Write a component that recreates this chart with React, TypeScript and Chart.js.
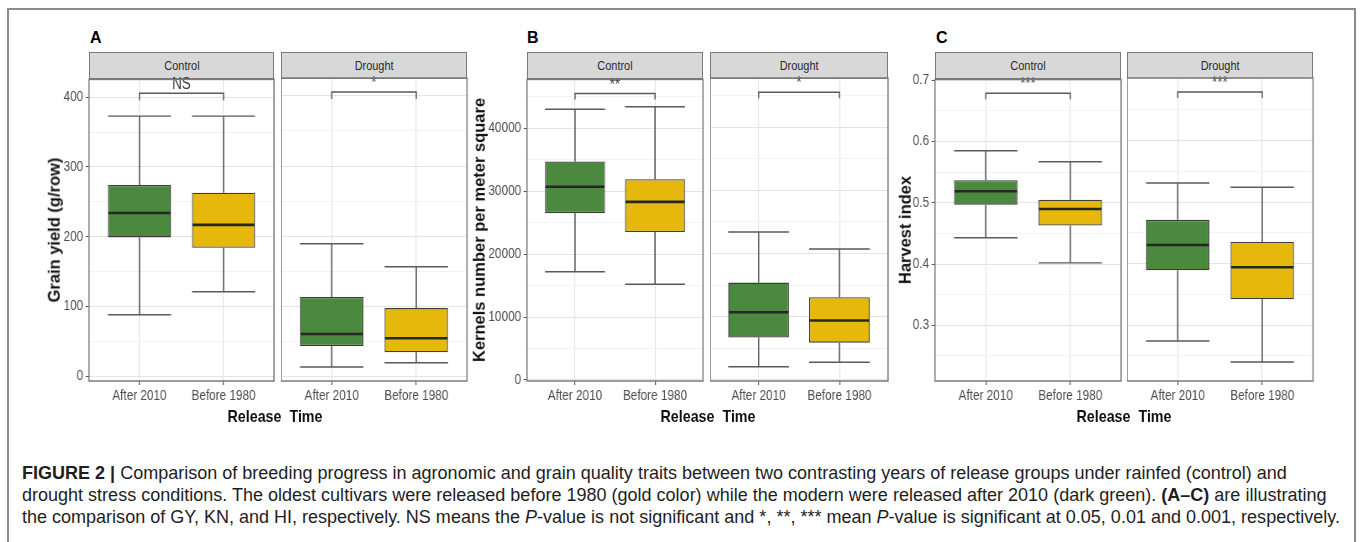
import React, { useEffect, useLayoutEffect, useRef, useState } from 'react';
import { Chart, registerables } from 'chart.js';

Chart.register(...registerables);

// Release groups on the x axis and the two water regimes shown as facets
const releaseGroups = ['After 2010', 'Before 1980'];
const regimes = ['Control', 'Drought'];
const groupColors = ['#4b8a3e', '#e6b80b'];

// Box summaries per release group: [lower whisker, Q1, median, Q3, upper whisker]
const grainYieldControl = [[88, 199, 234, 274, 373], [121, 184, 217, 263, 373]];
const grainYieldDrought = [[13, 43, 60, 113, 189], [19, 34, 54, 97, 156]];
const kernelsControl = [[17200, 26500, 30700, 34700, 43000], [15200, 23500, 28300, 31900, 43400]];
const kernelsDrought = [[2100, 6700, 10700, 15400, 23400], [2800, 5900, 9400, 13100, 20700]];
const harvestControl = [[0.443, 0.497, 0.519, 0.537, 0.585], [0.402, 0.463, 0.49, 0.505, 0.567]];
const harvestDrought = [[0.274, 0.389, 0.43, 0.471, 0.531], [0.24, 0.342, 0.394, 0.435, 0.524]];

// Significance of After 2010 vs Before 1980, one label per regime
const grainYieldSignif = ['NS', '*'];
const kernelsSignif = ['**', '*'];
const harvestSignif = ['***', '***'];

// Comparison bracket: [bar height, tip height] in data units
const grainYieldBracket = [405.7, 395.7];
const kernelsBracket = [45500, 44550];
const harvestBracket = [0.679, 0.669];

// Y ranges and ticks (an empty label marks a minor grid line)
const grainYieldRange = [-7.1, 425.7];
const grainYieldTicks = [0, 50, 100, 150, 200, 250, 300, 350, 400];
const grainYieldTickLabels = ['0', '', '100', '', '200', '', '300', '', '400'];
const kernelsRange = [-160, 47750];
const kernelsTicks = [0, 5000, 10000, 15000, 20000, 25000, 30000, 35000, 40000, 45000];
const kernelsTickLabels = ['0', '', '10000', '', '20000', '', '30000', '', '40000', ''];
const harvestRange = [0.209, 0.7016];
const harvestTicks = [0.25, 0.3, 0.35, 0.4, 0.45, 0.5, 0.55, 0.6, 0.65, 0.7];
const harvestTickLabels = ['', '0.3', '', '0.4', '', '0.5', '', '0.6', '', '0.7'];

const captionLines = [
  [{ b: 'FIGURE 2 | ' }, { t: 'Comparison of breeding progress in agronomic and grain quality traits between two contrasting years of release groups under rainfed (control) and' }],
  [{ t: 'drought stress conditions. The oldest cultivars were released before 1980 (gold color) while the modern were released after 2010 (dark green). ' }, { b: '(A–C)' }, { t: ' are illustrating' }],
  [{ t: 'the comparison of GY, KN, and HI, respectively. NS means the ' }, { i: 'P' }, { t: '-value is not significant and *, **, *** mean ' }, { i: 'P' }, { t: '-value is significant at 0.05, 0.01 and 0.001, respectively.' }],
];

const SANS = "'Liberation Sans', Arial, Helvetica, sans-serif";

// The plot panels use a horizontally condensed type, as in the printed figure
const SQUASH = 0.84;

const GRID_MAJOR = '#e4e4e4';
const GRID_MINOR = '#f3f3f3';
const TICK_TEXT = '#4d4d4d';
const TICK_MARK = '#555555';
const PANEL_EDGE = '#7a7a7a';
const WHISKER = '#5a5a5a';

// Figure geometry (pixels)
const PLOT_TOP = 78;
const PLOT_H = 303;
const PAD_T = 10;
const PAD_R = 10;
const Y_AXIS_W = 46;
const X_AXIS_H = 34;
const STRIP_TOP = 52;
const STRIP_H = 26;

const panels = [
  {
    letter: 'A', letterX: 90, yTitle: 'Grain yield (g/row)', yTitleX: 54, xTitleX: 275,
    facets: [grainYieldControl, grainYieldDrought], signif: grainYieldSignif, bracket: grainYieldBracket,
    range: grainYieldRange, ticks: grainYieldTicks, tickLabels: grainYieldTickLabels,
    x: [[89, 274], [281, 467]],
  },
  {
    letter: 'B', letterX: 527, yTitle: 'Kernels number per meter square', yTitleX: 479, xTitleX: 708,
    facets: [kernelsControl, kernelsDrought], signif: kernelsSignif, bracket: kernelsBracket,
    range: kernelsRange, ticks: kernelsTicks, tickLabels: kernelsTickLabels,
    x: [[527, 703], [710, 888]],
  },
  {
    letter: 'C', letterX: 936, yTitle: 'Harvest index', yTitleX: 905, xTitleX: 1124,
    facets: [harvestControl, harvestDrought], signif: harvestSignif, bracket: harvestBracket,
    range: harvestRange, ticks: harvestTicks, tickLabels: harvestTickLabels,
    x: [[935, 1121], [1127, 1313]],
  },
];

type Panel = (typeof panels)[number];

function FacetChart({ panel, idx }: { panel: Panel; idx: number }) {
  const ref = useRef<HTMLCanvasElement>(null);
  const [x0, x1] = panel.x[idx];
  const showY = idx === 0;
  const axisW = showY ? Y_AXIS_W : 0;
  // canvas works in condensed units and is stretched back by the wrapper transform
  const axisWi = axisW / SQUASH;
  const plotWi = (x1 - x0) / SQUASH;
  const innerW = Math.ceil(axisWi + plotWi + PAD_R / SQUASH);
  const padRi = innerW - axisWi - plotWi;
  const height = PAD_T + PLOT_H + X_AXIS_H;

  useEffect(() => {
    const summaries = panel.facets[idx];
    const label = panel.signif[idx];
    const [bracketBar, bracketTip] = panel.bracket;

    const boxParts = {
      id: 'boxParts',
      beforeDatasetsDraw(chart: any) {
        const y = chart.scales.y;
        const ctx = chart.ctx;
        const bars = chart.getDatasetMeta(0).data;
        ctx.save();
        ctx.strokeStyle = WHISKER;
        summaries.forEach((s, i) => {
          const b = bars[i];
          const half = b.width / 2;
          const yl = y.getPixelForValue(s[0]);
          const yq1 = y.getPixelForValue(s[1]);
          const yq3 = y.getPixelForValue(s[3]);
          const yu = y.getPixelForValue(s[4]);
          ctx.lineWidth = 1.6;
          ctx.beginPath();
          ctx.moveTo(b.x, yu); ctx.lineTo(b.x, yq3);
          ctx.moveTo(b.x, yq1); ctx.lineTo(b.x, yl);
          ctx.stroke();
          ctx.lineWidth = 1.4;
          ctx.beginPath();
          ctx.moveTo(b.x - half, yu); ctx.lineTo(b.x + half, yu);
          ctx.moveTo(b.x - half, yl); ctx.lineTo(b.x + half, yl);
          ctx.stroke();
        });
        ctx.restore();
      },
      afterDatasetsDraw(chart: any) {
        const y = chart.scales.y;
        const ctx = chart.ctx;
        const bars = chart.getDatasetMeta(0).data;
        ctx.save();
        // medians
        ctx.strokeStyle = '#262626';
        ctx.lineWidth = 2.6;
        summaries.forEach((s, i) => {
          const b = bars[i];
          const half = b.width / 2 - 0.6;
          const ym = y.getPixelForValue(s[2]);
          ctx.beginPath();
          ctx.moveTo(b.x - half, ym); ctx.lineTo(b.x + half, ym);
          ctx.stroke();
        });
        // comparison bracket with its significance label
        const xa = bars[0].x;
        const xb = bars[1].x;
        const yBar = y.getPixelForValue(bracketBar);
        const yTip = y.getPixelForValue(bracketTip);
        ctx.strokeStyle = WHISKER;
        ctx.lineWidth = 1.5;
        ctx.beginPath();
        ctx.moveTo(xa, yTip); ctx.lineTo(xa, yBar); ctx.lineTo(xb, yBar); ctx.lineTo(xb, yTip);
        ctx.stroke();
        ctx.fillStyle = '#3a3a3a';
        ctx.font = `16px ${SANS}`;
        ctx.textAlign = 'center';
        ctx.textBaseline = 'alphabetic';
        ctx.fillText(label, (xa + xb) / 2, yBar - 4);
        ctx.restore();
      },
      afterDraw(chart: any) {
        const { left, top, right, bottom } = chart.chartArea;
        const ctx = chart.ctx;
        ctx.save();
        ctx.strokeStyle = PANEL_EDGE;
        ctx.lineWidth = 1.5;
        ctx.strokeRect(left, top, right - left, bottom - top);
        ctx.restore();
      },
    };

    const chart = new Chart(ref.current as HTMLCanvasElement, {
      type: 'bar',
      data: {
        datasets: [
          {
            data: summaries.map((s, i) => ({ x: i + 1, y: [s[1], s[3]] })) as any,
            backgroundColor: groupColors,
            borderColor: '#3c3c3c',
            borderWidth: 1.3,
            borderSkipped: false,
            categoryPercentage: 1,
            barPercentage: 0.75,
          },
        ],
      },
      options: {
        animation: false,
        responsive: false,
        maintainAspectRatio: false,
        devicePixelRatio: 1,
        events: [],
        layout: { padding: { top: PAD_T, right: padRi, left: 0, bottom: 0 } },
        plugins: { legend: { display: false }, tooltip: { enabled: false } },
        scales: {
          x: {
            type: 'linear',
            min: 0.4,
            max: 2.6,
            bounds: 'data',
            offset: false,
            afterBuildTicks: (s: any) => { s.ticks = releaseGroups.map((_, i) => ({ value: i + 1 })); },
            afterFit: (s: any) => { s.height = X_AXIS_H; },
            ticks: {
              callback: (_v: any, i: number) => releaseGroups[i],
              font: { family: SANS, size: 14 },
              color: TICK_TEXT,
              padding: 3,
              maxRotation: 0,
              autoSkip: false,
            },
            grid: { offset: false, color: GRID_MAJOR, lineWidth: 1.2, tickLength: 4, tickColor: TICK_MARK, drawTicks: true },
            border: { display: false },
          },
          y: {
            type: 'linear',
            min: panel.range[0],
            max: panel.range[1],
            bounds: 'data',
            afterBuildTicks: (s: any) => { s.ticks = panel.ticks.map((v) => ({ value: v })); },
            afterFit: (s: any) => { s.width = axisWi; },
            ticks: {
              display: showY,
              callback: (_v: any, i: number) => panel.tickLabels[i],
              font: { family: SANS, size: 14 },
              color: TICK_TEXT,
              padding: 3,
              autoSkip: false,
            },
            grid: {
              color: (c: any) => (panel.tickLabels[c.index] ? GRID_MAJOR : GRID_MINOR),
              lineWidth: 1,
              drawTicks: showY,
              tickLength: 4,
              tickColor: (c: any) => (panel.tickLabels[c.index] ? TICK_MARK : 'rgba(0,0,0,0)'),
            },
            border: { display: false },
          },
        },
      } as any,
      plugins: [boxParts],
    });
    return () => chart.destroy();
  }, []);

  return (
    <div
      style={{
        position: 'absolute', left: x0 - axisW, top: PLOT_TOP - PAD_T, width: innerW, height,
        transform: `scaleX(${SQUASH})`, transformOrigin: '0 0', zIndex: 2,
      }}
    >
      <canvas ref={ref} width={innerW} height={height} style={{ display: 'block' }} />
    </div>
  );
}

function Caption() {
  const lastRef = useRef<HTMLDivElement>(null);
  const [size, setSize] = useState(16);
  const fitted = useRef(false);
  useLayoutEffect(() => {
    if (fitted.current || !lastRef.current) return;
    fitted.current = true;
    const w = lastRef.current.getBoundingClientRect().width;
    if (w > 0) setSize((16 * 1319) / w);
  }, []);
  return (
    <>
      {captionLines.map((line, li) => (
        <div
          key={li}
          ref={li === 2 ? lastRef : undefined}
          style={{
            position: 'absolute', left: 22, top: 462.5 + li * 22, whiteSpace: 'nowrap',
            font: `${size}px ${SANS}`, lineHeight: '22px', color: '#1e1e1e', zIndex: 3,
          }}
        >
          {line.map((part: any, pi) =>
            part.b ? <b key={pi}>{part.b}</b> : part.i ? <i key={pi}>{part.i}</i> : <span key={pi}>{part.t}</span>
          )}
        </div>
      ))}
    </>
  );
}

export default function App() {
  return (
    <div style={{ position: 'fixed', left: 0, top: 0, width: 1360, height: 542, background: '#fff', overflow: 'hidden' }}>
      <div style={{ position: 'absolute', left: 7, top: 8, width: 1349, height: 600, border: '2px solid #8c8c8c', boxSizing: 'border-box' }} />
      {panels.map((p) => (
        <React.Fragment key={p.letter}>
          <div style={{ position: 'absolute', left: p.letterX, top: 30, font: `bold 16px ${SANS}`, lineHeight: 1, color: '#000' }}>{p.letter}</div>
          {regimes.map((r, i) => (
            <div
              key={r}
              style={{
                position: 'absolute', left: p.x[i][0], top: STRIP_TOP, width: p.x[i][1] - p.x[i][0], height: STRIP_H + 1,
                background: '#d8d8d8', border: `1.5px solid ${PANEL_EDGE}`, boxSizing: 'border-box',
                textAlign: 'center', lineHeight: `${STRIP_H - 2}px`, zIndex: 1,
              }}
            >
              <span style={{ display: 'inline-block', transform: `scaleX(${SQUASH})`, font: `13px ${SANS}`, color: '#2a2a2a' }}>{r}</span>
            </div>
          ))}
          {regimes.map((r, i) => <FacetChart key={r} panel={p} idx={i} />)}
          <div
            style={{
              position: 'absolute', left: p.yTitleX, top: PLOT_TOP + PLOT_H / 2, transform: 'translate(-50%, -50%) rotate(-90deg)',
              font: `bold 16.5px ${SANS}`, whiteSpace: 'nowrap', color: '#111', lineHeight: 1, zIndex: 3,
            }}
          >
            {p.yTitle}
          </div>
          <div
            style={{
              position: 'absolute', left: p.xTitleX, top: 416, transform: `translate(-50%, -50%) scaleX(${SQUASH})`,
              font: `bold 17px ${SANS}`, whiteSpace: 'pre', color: '#111', lineHeight: 1, zIndex: 3,
            }}
          >
            {'Release  Time'}
          </div>
        </React.Fragment>
      ))}
      <Caption />
    </div>
  );
}
